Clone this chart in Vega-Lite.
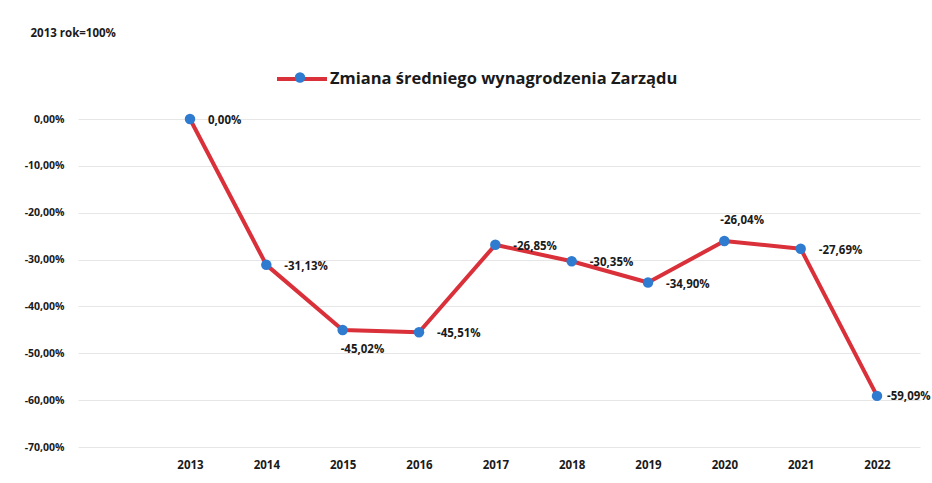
{
  "$schema": "https://vega.github.io/schema/vega-lite/v6.json",
  "width": 842,
  "height": 328,
  "autosize": {"type": "none"},
  "padding": {"left": 78, "top": 119, "right": 12, "bottom": 36},
  "background": "white",
  "config": {
    "view": {"stroke": null},
    "font": "Open Sans",
    "locale": {"number": {"decimal": ",", "thousands": " ", "grouping": [3], "currency": ["", " zł"], "minus": "-", "percent": "%"}},
    "axis": {"labelFont": "Open Sans", "labelFontWeight": "bold", "labelColor": "#1a1a1a", "labelFontSize": 10.5},
    "legend": {"labelFont": "Open Sans", "labelFontWeight": "bold", "labelColor": "#1a1a1a", "labelLimit": 600}
  },
  "data": {
    "values": [
      {"rok": 2013, "zmiana": 0.0000, "seria": "Zmiana średniego wynagrodzenia Zarządu"},
      {"rok": 2014, "zmiana": -0.3113, "seria": "Zmiana średniego wynagrodzenia Zarządu"},
      {"rok": 2015, "zmiana": -0.4502, "seria": "Zmiana średniego wynagrodzenia Zarządu"},
      {"rok": 2016, "zmiana": -0.4551, "seria": "Zmiana średniego wynagrodzenia Zarządu"},
      {"rok": 2017, "zmiana": -0.2685, "seria": "Zmiana średniego wynagrodzenia Zarządu"},
      {"rok": 2018, "zmiana": -0.3035, "seria": "Zmiana średniego wynagrodzenia Zarządu"},
      {"rok": 2019, "zmiana": -0.3490, "seria": "Zmiana średniego wynagrodzenia Zarządu"},
      {"rok": 2020, "zmiana": -0.2604, "seria": "Zmiana średniego wynagrodzenia Zarządu"},
      {"rok": 2021, "zmiana": -0.2769, "seria": "Zmiana średniego wynagrodzenia Zarządu"},
      {"rok": 2022, "zmiana": -0.5909, "seria": "Zmiana średniego wynagrodzenia Zarządu"}
    ]
  },
  "encoding": {
    "x": {
      "field": "rok", "type": "quantitative",
      "scale": {"domain": [2011.533, 2022.563], "nice": false, "zero": false},
      "axis": {"values": [2013, 2014, 2015, 2016, 2017, 2018, 2019, 2020, 2021, 2022], "format": "d", "grid": false, "domain": false, "ticks": false, "labelPadding": 12, "labelFontSize": 11.5, "title": null}
    },
    "y": {
      "field": "zmiana", "type": "quantitative",
      "scale": {"domain": [-0.7, 0], "nice": false, "zero": false},
      "axis": {
        "values": [0, -0.1, -0.2, -0.3, -0.4, -0.5, -0.6, -0.7],
        "format": ".2%",
        "grid": true, "gridColor": "#e6e6e6", "gridWidth": 1,
        "domain": false, "ticks": false, "labelPadding": 14,
        "title": "2013 rok=100%", "titleAngle": 0, "titleAlign": "left", "titleBaseline": "middle",
        "titleX": -48, "titleY": -86, "titleFont": "Open Sans", "titleFontWeight": "bold", "titleFontSize": 11.5, "titleColor": "#1a1a1a"
      }
    }
  },
  "layer": [
    {
      "mark": {"type": "line", "strokeWidth": 4, "strokeCap": "round", "strokeJoin": "round"},
      "encoding": {
        "stroke": {"field": "seria", "type": "nominal", "scale": {"range": ["#d9303a"]},
          "legend": {"orient": "none", "legendX": 197, "legendY": -67, "title": null, "symbolType": "stroke", "symbolSize": 2500, "symbolStrokeWidth": 4, "labelFontSize": 16.5, "labelOffset": 1, "padding": 0}}
      }
    },
    {
      "mark": {"type": "point", "filled": true, "size": 110, "opacity": 1},
      "encoding": {
        "fill": {"datum": "pt", "type": "nominal", "scale": {"range": ["#2e7bd0"]},
          "legend": {"orient": "none", "legendX": 214.5, "legendY": -49, "title": null, "symbolType": "circle", "symbolSize": 110, "symbolStrokeWidth": 0, "labelFontSize": 15, "labelOpacity": 0, "padding": 0, "zindex": 2}}
      }
    },
    {
      "transform": [{"filter": "datum.rok != 2015 && datum.rok != 2020 && datum.rok != 2022"}],
      "mark": {"type": "text", "align": "left", "baseline": "middle", "dx": 18, "dy": 2, "font": "Open Sans", "fontWeight": "bold", "fontSize": 11.5, "color": "#1a1a1a"},
      "encoding": {"text": {"field": "zmiana", "type": "quantitative", "format": ".2%"}}
    },
    {
      "transform": [{"filter": "datum.rok == 2015"}],
      "mark": {"type": "text", "align": "left", "baseline": "middle", "dx": -2, "dy": 20, "font": "Open Sans", "fontWeight": "bold", "fontSize": 11.5, "color": "#1a1a1a"},
      "encoding": {"text": {"field": "zmiana", "type": "quantitative", "format": ".2%"}}
    },
    {
      "transform": [{"filter": "datum.rok == 2020"}],
      "mark": {"type": "text", "align": "left", "baseline": "middle", "dx": -4, "dy": -20, "font": "Open Sans", "fontWeight": "bold", "fontSize": 11.5, "color": "#1a1a1a"},
      "encoding": {"text": {"field": "zmiana", "type": "quantitative", "format": ".2%"}}
    },
    {
      "transform": [{"filter": "datum.rok == 2022"}],
      "mark": {"type": "text", "align": "left", "baseline": "middle", "dx": 10, "dy": 1, "font": "Open Sans", "fontWeight": "bold", "fontSize": 11.5, "color": "#1a1a1a"},
      "encoding": {"text": {"field": "zmiana", "type": "quantitative", "format": ".2%"}}
    }
  ]
}
